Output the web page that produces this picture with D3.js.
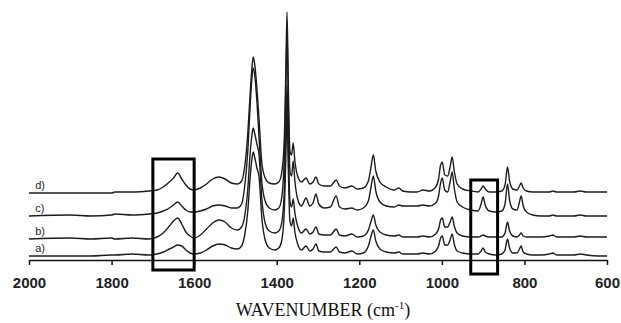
<!DOCTYPE html>
<html>
<head>
<meta charset="utf-8">
<script src="https://cdn.jsdelivr.net/npm/d3@7"></script>
<style>
  body { margin: 0; background: #fff; }
  svg { display: block; }
</style>
</head>
<body>
<div id="chart"></div>
<script>
// wavenumber grid (cm-1), shared by all four spectra
var wavenumbers = [
  2000, 1900, 1850, 1800, 1792, 1750, 1710, 1690, 1675, 1660,
  1650, 1640, 1630, 1620, 1610, 1600, 1585, 1570, 1555, 1540,
  1525, 1510, 1495, 1485, 1478, 1470, 1465, 1460, 1457, 1453,
  1448, 1443, 1436, 1428, 1418, 1405, 1395, 1388, 1382, 1378,
  1375, 1372, 1368, 1364, 1360, 1356, 1350, 1340, 1329, 1320,
  1312, 1305, 1298, 1285, 1270, 1256, 1248, 1235, 1218, 1205,
  1190, 1178, 1172, 1166, 1160, 1150, 1135, 1115, 1104, 1095,
  1075, 1060, 1046, 1030, 1015, 1008, 1003, 999, 993, 986,
  980, 975, 970, 963, 950, 930, 912, 905, 900, 895,
  885, 870, 855, 847, 841, 836, 828, 818, 812, 808,
  803, 795, 780, 760, 740, 731, 722, 700, 680, 665,
  650, 620, 600
];

// absorbance (arbitrary units)
var specA = [
  0, 0, 0, 1, 1, 2, 1, 2, 4, 7,
  9, 11, 10, 6, 3, 2, 3, 6, 10, 12,
  11, 8, 7, 10, 20, 45, 75, 97, 104, 98,
  88, 80, 38, 16, 8, 6, 8, 15, 42, 98,
  146, 88, 35, 30, 38, 24, 13, 6, 10, 5,
  7, 12, 5, 4, 4, 9, 4, 3, 5, 2,
  3, 10, 19, 26, 15, 7, 4, 3, 4, 2,
  2, 2, 3, 2, 5, 10, 18, 20, 11, 11,
  16, 22, 12, 5, 3, 2, 2, 5, 8, 4,
  2, 1, 2, 6, 17, 8, 3, 3, 7, 10,
  4, 2, 1, 1, 2, 3, 1, 1, 1, 2,
  1, 0, 0
];
var specB = [
  0, 1, 0, 1, 0, 1, 0, 2, 6, 13,
  18, 21, 15, 7, 3, 1, 4, 10, 16, 19,
  17, 11, 9, 12, 22, 50, 82, 104, 111, 105,
  95, 85, 40, 16, 8, 6, 8, 16, 45, 105,
  154, 95, 38, 32, 40, 26, 14, 6, 10, 5,
  7, 12, 5, 4, 4, 10, 4, 3, 5, 2,
  3, 9, 17, 24, 14, 7, 4, 3, 4, 2,
  2, 2, 3, 2, 5, 10, 19, 21, 12, 12,
  17, 22, 13, 6, 3, 2, 2, 3, 4, 3,
  2, 2, 2, 6, 17, 8, 3, 2, 4, 6,
  3, 2, 2, 2, 3, 4, 2, 2, 2, 3,
  2, 2, 2
];
var specC = [
  0, 1, 0, 1, 2, 1, 2, 3, 5, 8,
  11, 14, 10, 6, 4, 4, 5, 7, 10, 11,
  10, 8, 8, 12, 28, 65, 105, 138, 148, 140,
  115, 80, 34, 15, 8, 6, 8, 18, 55, 125,
  186, 115, 45, 40, 55, 35, 18, 10, 18, 10,
  13, 22, 12, 8, 9, 20, 9, 7, 8, 6,
  8, 15, 28, 40, 25, 14, 10, 9, 11, 10,
  10, 10, 11, 10, 13, 20, 33, 38, 26, 24,
  34, 44, 28, 14, 9, 6, 5, 12, 19, 11,
  5, 4, 5, 12, 32, 16, 7, 6, 14, 20,
  10, 4, 1, 0, 0, 1, 0, 0, 0, 1,
  0, 0, 0
];
var specD = [
  0, 0, 0, 0, 1, 1, 2, 3, 6, 11,
  15, 20, 14, 8, 4, 3, 5, 9, 14, 16,
  14, 10, 9, 12, 25, 60, 95, 125, 136, 128,
  105, 75, 30, 15, 10, 9, 11, 20, 50, 120,
  181, 110, 42, 38, 50, 32, 18, 11, 15, 9,
  11, 16, 9, 7, 7, 13, 7, 5, 7, 4,
  5, 12, 25, 38, 22, 11, 6, 3, 5, 2,
  1, 1, 3, 2, 6, 14, 28, 31, 18, 17,
  26, 36, 22, 9, 4, 2, 1, 4, 7, 4,
  1, 1, 2, 8, 26, 12, 4, 3, 7, 10,
  5, 2, 1, 1, 1, 2, 1, 1, 1, 2,
  1, 1, 1
];

var traceLabels = ["a)", "b)", "c)", "d)"];
var traceOffsets = [4, 21, 44, 67];
var xTicks = [2000, 1800, 1600, 1400, 1200, 1000, 800, 600];
var boxRanges = [[1700, 1600], [930, 865]];

var W = 621, H = 323;
var svg = d3.select("#chart").append("svg")
    .attr("width", W)
    .attr("height", H);

var x = d3.scaleLinear().domain([2000, 600]).range([29, 607]);
var y = d3.scaleLinear().domain([0, 250]).range([260, 10]);

var series = [specA, specB, specC, specD];
series.forEach(function(s) {
  if (s.length !== wavenumbers.length) console.warn("length mismatch", s.length);
});

var line = d3.line()
    .x(function(d) { return x(d[0]); })
    .y(function(d) { return y(d[1]); })
    .curve(d3.curveMonotoneX);

// spectra, stacked by offset
series.forEach(function(s, i) {
  var pts = wavenumbers.map(function(w, j) { return [w, s[j] + traceOffsets[i]]; });
  svg.append("path")
      .datum(pts)
      .attr("fill", "none")
      .attr("stroke", "#1c1c1c")
      .attr("stroke-width", 1.4)
      .attr("stroke-linejoin", "round")
      .attr("d", line);

  svg.append("text")
      .attr("x", x(1985))
      .attr("y", y(traceOffsets[i]) - 4)
      .attr("font-family", "Arial, 'Liberation Sans', sans-serif")
      .attr("font-size", 11)
      .attr("fill", "#222")
      .text(traceLabels[i]);
});

// x axis
var axis = svg.append("g")
    .attr("transform", "translate(0," + y(0) + ")")
    .call(d3.axisBottom(x).tickValues(xTicks).tickFormat(d3.format("d"))
      .tickSize(5).tickSizeOuter(0).tickPadding(12));
axis.select(".domain").attr("stroke", "#111").attr("stroke-width", 1.5);
axis.selectAll(".tick line").attr("stroke", "#111").attr("stroke-width", 1.5);
axis.selectAll(".tick text")
    .attr("font-family", "Arial, 'Liberation Sans', sans-serif")
    .attr("font-size", 15)
    .attr("font-weight", "bold")
    .attr("fill", "#222");

// highlight boxes
var boxTops = [101, 80], boxBottoms = [-10, -14];
boxRanges.forEach(function(r, i) {
  svg.append("rect")
      .attr("x", x(r[0]))
      .attr("y", y(boxTops[i]))
      .attr("width", x(r[1]) - x(r[0]))
      .attr("height", y(boxBottoms[i]) - y(boxTops[i]))
      .attr("fill", "none")
      .attr("stroke", "#000")
      .attr("stroke-width", 3);
});

// axis title
var title = svg.append("text")
    .attr("x", 323)
    .attr("y", 316)
    .attr("text-anchor", "middle")
    .attr("font-family", "'Times New Roman', 'Liberation Serif', serif")
    .attr("font-size", 18)
    .attr("fill", "#111");
title.append("tspan").text("WAVENUMBER (cm");
title.append("tspan").attr("font-size", 11).attr("dy", -7).text("-1");
title.append("tspan").attr("dy", 7).text(")");
</script>
</body>
</html>
